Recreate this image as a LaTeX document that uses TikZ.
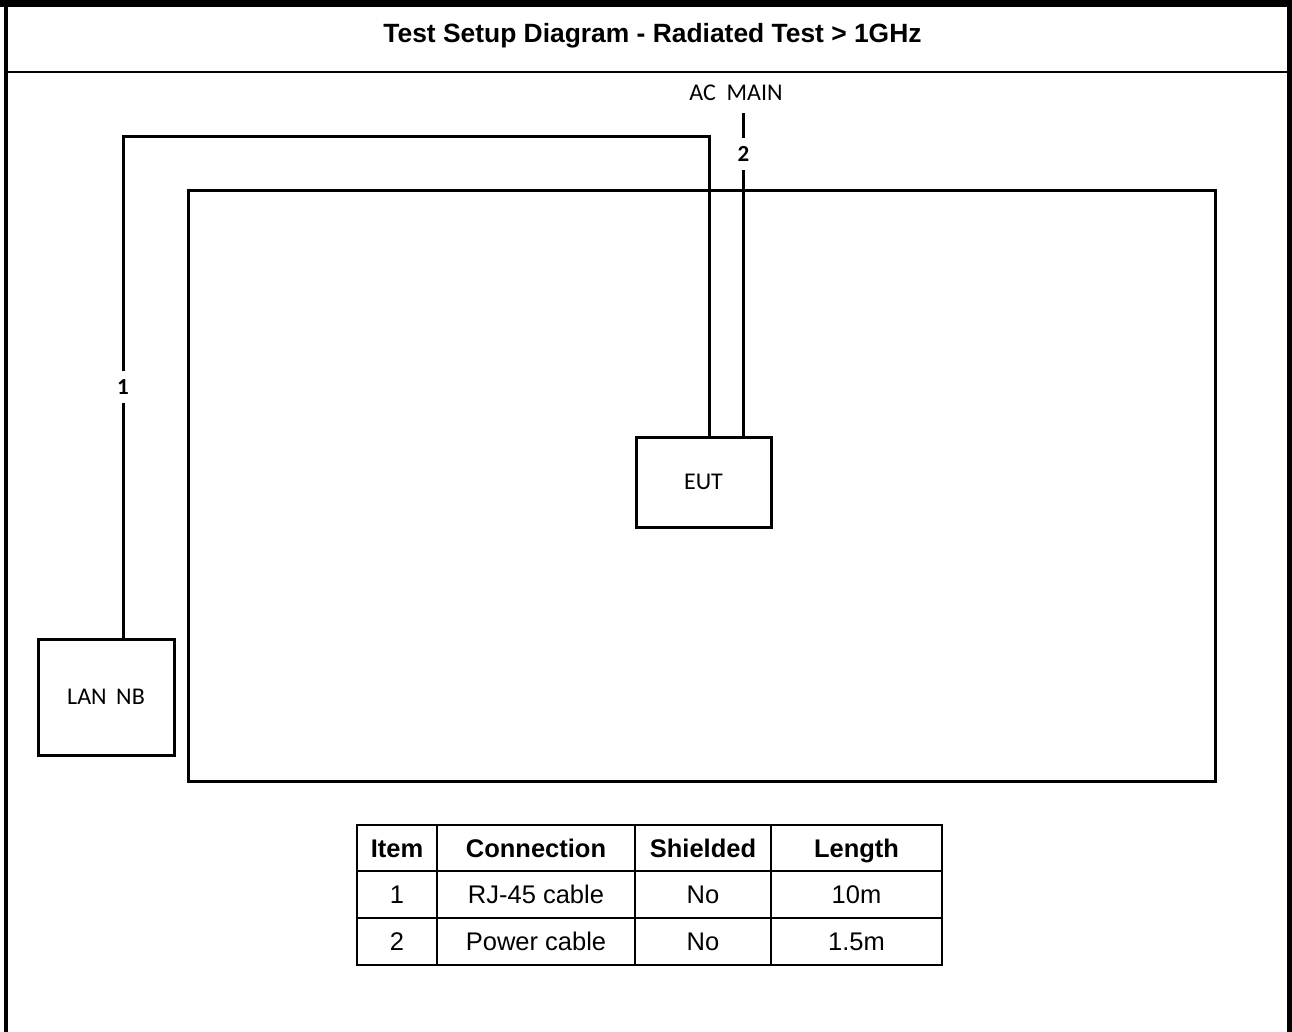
\documentclass[tikz,border=0pt]{standalone}
\usepackage{fontspec}
\setmainfont{Liberation Sans}
\newfontfamily\calibfont{Carlito}
\begin{document}
\begin{tikzpicture}[x=1pt,y=-1pt,line join=miter,
  wire/.style={line width=3pt},
  unit/.style={draw,line width=3pt,inner sep=0pt,
    font=\calibfont\fontsize{24}{26}\selectfont},
  tag/.style={fill=white,inner xsep=2pt,inner ysep=9pt,
    font=\calibfont\bfseries\fontsize{23}{24}\selectfont},
  cell/.style={draw,line width=2.5pt,inner sep=0pt,text height=18.3pt,text depth=0pt,
    font=\fontsize{25.5}{28}\selectfont},
  head/.style={cell,font=\bfseries\fontsize{25.5}{28}\selectfont}]
\useasboundingbox (0,0) rectangle (1292,1032);
% page frame and title band
\fill (0,0) rectangle (1292,7);
\fill (4,0) rectangle (8,1032);
\fill (1287,0) rectangle (1292,1032);
\draw[line width=2.5pt] (6,72) -- (1289,72);
\node[font=\bfseries\fontsize{26.4}{28}\selectfont] (title) at (652.5,36)
  {Test Setup Diagram - Radiated Test > 1GHz};

% test table outline
\node[draw,line width=3pt,minimum width=1027pt,minimum height=590pt,inner sep=0pt]
  (bench) at (701.5,486) {};

% equipment
\node[unit,minimum width=135pt,minimum height=90pt] (eut) at (703.5,482) {EUT};
\node[unit,minimum width=136pt,minimum height=116pt] (lan) at (106,697) {LAN\hspace{0.4em}NB};
\node[font=\calibfont\fontsize{24}{26}\selectfont] (ac) at (736,93) {AC\hspace{0.45em}MAIN};

% cable 1: LAN NB to EUT
\coordinate (c1corner) at (123,137);
\coordinate (c1drop) at (709,137);
\draw[wire] (lan.north -| c1corner) -- (c1corner) -- (c1drop) -- (eut.north -| c1drop);
\node[tag] (t1) at (123,387) {1};

% cable 2: EUT to AC mains
\coordinate (c2top) at (743.5,113);
\draw[wire] (eut.north -| c2top) -- (c2top);
\node[tag,inner ysep=8pt] (t2) at (743.5,154) {2};

% cable list
\node[head,minimum width=80pt,minimum height=46pt] (h1) at (397,848) {Item};
\node[head,minimum width=198pt,minimum height=46pt] (h2) at (536,848) {Connection};
\node[head,minimum width=136pt,minimum height=46pt] (h3) at (703,848) {Shielded};
\node[head,minimum width=171pt,minimum height=46pt] (h4) at (856.5,848) {Length};
\node[cell,minimum width=80pt,minimum height=47pt] (a1) at (397,894.5) {1};
\node[cell,minimum width=198pt,minimum height=47pt] (a2) at (536,894.5) {RJ-45 cable};
\node[cell,minimum width=136pt,minimum height=47pt] (a3) at (703,894.5) {No};
\node[cell,minimum width=171pt,minimum height=47pt] (a4) at (856.5,894.5) {10m};
\node[cell,minimum width=80pt,minimum height=47pt] (b1) at (397,941.5) {2};
\node[cell,minimum width=198pt,minimum height=47pt] (b2) at (536,941.5) {Power cable};
\node[cell,minimum width=136pt,minimum height=47pt] (b3) at (703,941.5) {No};
\node[cell,minimum width=171pt,minimum height=47pt] (b4) at (856.5,941.5) {1.5m};
\end{tikzpicture}
\end{document}
